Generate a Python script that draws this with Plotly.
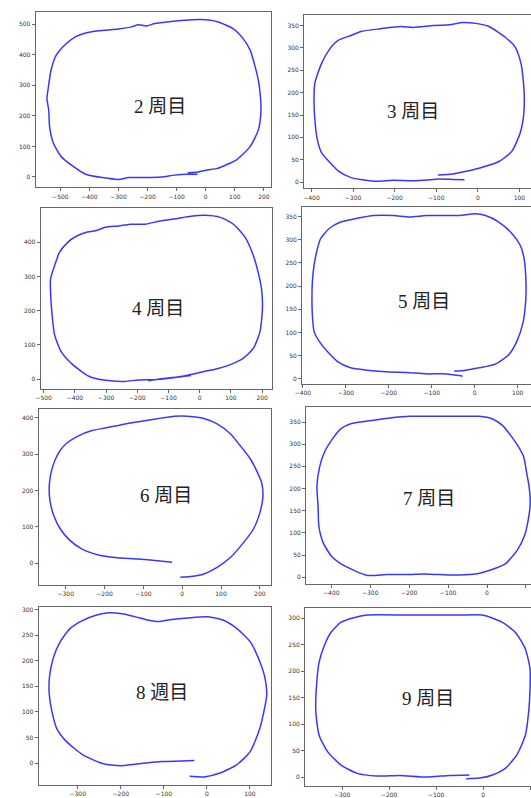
import plotly.graph_objects as go

W, H = 531, 798

# ---- data (hand-drawn laps) ----
titles = ["2 周目", "3 周目", "4 周目", "5 周目", "6 周目", "7 周目", "8 週目", "9 周目"]

lap2_x = [-62, -28, 6, 40, 107, 153, 181, 190, 187, 181, 170, 153, 130, 96, 40, -17, -74, -119, -175, -204, -232, -255, -300, -368, -413, -447, -481, -515, -532, -541, -546, -540, -537, -524, -498, -458, -413, -356, -300, -266, -209, -153, -107, -62, -28]
lap2_y = [14, 16, 23, 28, 57, 100, 154, 219, 273, 316, 360, 414, 451, 484, 508, 515, 513, 509, 502, 494, 498, 491, 484, 478, 471, 459, 435, 397, 349, 295, 257, 219, 165, 111, 68, 36, 9, -2, -8, -2, -2, 0, 6, 9, 9]

lap3_x = [-96, -60, -28, 3, 51, 82, 102, 110, 112, 110, 104, 90, 66, 27, -5, -36, -68, -107, -155, -186, -234, -281, -305, -336, -356, -376, -392, -394, -392, -386, -376, -356, -336, -305, -250, -202, -155, -107, -92, -60, -32]
lap3_y = [16, 18, 24, 31, 46, 69, 110, 147, 184, 221, 265, 302, 324, 348, 355, 357, 352, 350, 346, 348, 343, 337, 328, 317, 298, 265, 221, 184, 140, 95, 66, 44, 25, 10, 2, 4, 3, 6, 7, 6, 5]

lap4_x = [-165, -123, -71, -28, 14, 56, 98, 140, 172, 193, 201, 198, 187, 172, 145, 108, 66, 14, -28, -71, -123, -176, -219, -260, -302, -334, -365, -397, -423, -449, -465, -478, -478, -473, -465, -444, -407, -355, -302, -239, -197, -144, -92, -49, -28]
lap4_y = [-5, 1, 6, 13, 22, 30, 42, 61, 90, 138, 206, 264, 313, 361, 415, 453, 473, 479, 476, 470, 463, 453, 453, 448, 444, 434, 429, 417, 400, 371, 332, 293, 255, 187, 129, 80, 42, 8, -4, -7, -3, -2, 3, 8, 10]

lap5_x = [-48, -21, 10, 48, 79, 98, 113, 119, 119, 115, 106, 87, 56, 25, 2, -36, -74, -113, -151, -189, -235, -274, -312, -339, -359, -368, -374, -378, -379, -378, -374, -362, -343, -320, -289, -251, -197, -159, -113, -74, -51, -28]
lap5_y = [17, 19, 24, 32, 52, 81, 124, 174, 216, 259, 288, 313, 338, 352, 356, 352, 352, 352, 349, 352, 352, 346, 338, 324, 302, 274, 245, 209, 174, 138, 102, 81, 59, 38, 24, 19, 15, 14, 11, 11, 9, 6]

lap6_x = [-5, 22, 56, 90, 124, 158, 183, 200, 208, 205, 192, 175, 149, 124, 90, 56, 14, -20, -54, -97, -147, -198, -232, -266, -300, -317, -334, -342, -341, -330, -313, -292, -258, -215, -173, -114, -63, -26]
lap6_y = [-38, -36, -29, -11, 16, 57, 93, 138, 184, 220, 254, 288, 324, 356, 383, 398, 404, 404, 399, 392, 383, 372, 365, 351, 328, 306, 265, 220, 175, 129, 93, 66, 39, 23, 16, 12, 7, 3]

lap7_x = [-29, 5, 47, 77, 96, 106, 111, 108, 102, 94, 81, 64, 39, 14, -20, -71, -122, -198, -240, -291, -350, -375, -396, -417, -430, -437, -434, -432, -421, -400, -367, -307, -257, -198, -164, -122, -71, -29]
lap7_y = [7, 15, 30, 60, 93, 130, 168, 205, 235, 272, 294, 316, 343, 357, 363, 363, 363, 363, 360, 354, 346, 335, 313, 283, 249, 205, 160, 115, 78, 48, 26, 4, 6, 6, 7, 6, 5, 7]

lap8_x = [-40, -6, 32, 70, 101, 123, 139, 135, 123, 101, 70, 40, 2, -44, -82, -113, -143, -166, -197, -227, -258, -288, -318, -341, -357, -366, -366, -360, -349, -326, -288, -242, -197, -143, -105, -59, -29]
lap8_y = [-26, -27, -19, -3, 23, 68, 133, 166, 198, 237, 263, 279, 286, 284, 281, 277, 281, 286, 292, 294, 289, 279, 263, 237, 205, 166, 133, 101, 68, 42, 16, -1, -5, 0, 3, 4, 5]

lap9_x = [-36, -8, 20, 48, 72, 90, 97, 100, 100, 90, 69, 41, -1, -51, -107, -163, -247, -275, -303, -324, -338, -349, -354, -356, -349, -331, -303, -268, -226, -177, -121, -72, -29]
lap9_y = [-3, -2, 4, 17, 42, 79, 123, 167, 204, 242, 273, 292, 306, 306, 306, 306, 306, 301, 292, 273, 248, 217, 179, 123, 79, 48, 23, 7, 2, 3, 0, 3, 4]

laps_x = [lap2_x, lap3_x, lap4_x, lap5_x, lap6_x, lap7_x, lap8_x, lap9_x]
laps_y = [lap2_y, lap3_y, lap4_y, lap5_y, lap6_y, lap7_y, lap8_y, lap9_y]

x_ranges = [[-585, 226], [-418, 128], [-510, 233], [-402, 131], [-370, 230], [-465, 113], [-391, 150], [-379, 102]]
y_ranges = [[-34, 540], [-14, 374], [-28, 500], [-10, 370], [-59, 423], [-15, 383], [-43, 306], [-17, 320]]
x_ticks = [list(range(-500, 201, 100)), list(range(-400, 101, 100)), list(range(-500, 201, 100)),
           list(range(-400, 101, 100)), list(range(-300, 201, 100)), list(range(-400, 101, 100)),
           list(range(-300, 101, 100)), list(range(-300, 101, 100))]
y_ticks = [list(range(0, 501, 100)), list(range(0, 351, 50)), list(range(0, 401, 100)),
           list(range(0, 351, 50)), list(range(0, 401, 100)), list(range(0, 351, 50)),
           list(range(0, 301, 50)), list(range(0, 301, 50))]

# ---- layout geometry (pixels) ----
frames = [(29, 268, 11, 188), (301, 531, 14, 189), (34, 269, 209, 391), (299, 531, 208, 386),
          (32, 268, 412, 589), (303, 531, 410, 588), (32, 268, 611, 791), (302, 531, 612, 792)]
label_pos = [(155, 106), (411, 111), (153, 310), (423, 303), (161, 499), (428, 502), (157, 698), (427, 704)]

fig = go.Figure()
layout = dict(width=W, height=H, margin=dict(l=0, r=0, t=0, b=0),
              paper_bgcolor="white", plot_bgcolor="white", showlegend=False)

annotations = []
for i in range(8):
    n = "" if i == 0 else str(i + 1)
    x0, x1, y0, y1 = frames[i]
    right_col = i % 2 == 1
    fig.add_trace(go.Scatter(x=laps_x[i], y=laps_y[i], mode="lines",
                             line=dict(color="rgb(55,55,255)", width=1.5, shape="spline", smoothing=0.6),
                             xaxis="x" + n, yaxis="y" + n, hoverinfo="skip"))
    axcommon = dict(showgrid=False, zeroline=False, showline=True, linecolor="#666", linewidth=1,
                    ticks="outside", ticklen=3, tickwidth=0.8, tickcolor="#666",
                    tickfont=dict(size=6, color="#333", family="DejaVu Sans"))
    layout["xaxis" + n] = dict(axcommon, domain=[x0 / W, min(x1 / W, 1)], range=x_ranges[i],
                               tickvals=x_ticks[i], anchor="y" + n, mirror=True)
    layout["yaxis" + n] = dict(axcommon, domain=[1 - y1 / H, 1 - y0 / H], range=y_ranges[i],
                               tickvals=y_ticks[i], anchor="x" + n, mirror=not right_col)
    lx, ly = label_pos[i]
    annotations.append(dict(text=titles[i], x=lx / W, y=1 - ly / H, xref="paper", yref="paper",
                            showarrow=False, xanchor="center", yanchor="middle",
                            font=dict(size=19, color="#222", family="Liberation Serif, Noto Sans CJK JP")))

layout["annotations"] = annotations
fig.update_layout(**layout)
fig.write_html("out.html", config={"displayModeBar": False},
               post_script="document.body.style.margin='0px';document.body.style.overflow='hidden';")
